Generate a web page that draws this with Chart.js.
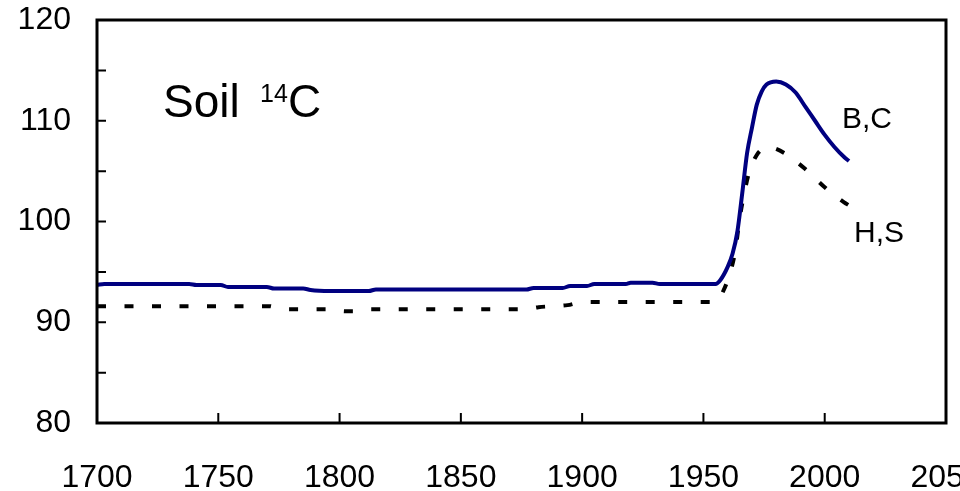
<!DOCTYPE html>
<html>
<head>
<meta charset="utf-8">
<script src="https://cdn.jsdelivr.net/npm/chart.js@4/dist/chart.umd.min.js"></script>
<style>
  html, body { margin: 0; padding: 0; background: #fff; overflow: hidden; }
  #wrap { width: 960px; height: 491px; }
</style>
</head>
<body>
<div id="wrap"><canvas id="soilChart" width="960" height="491"></canvas></div>
<script>
// values
var bcYears = [1700, 1703, 1738, 1741, 1751, 1754, 1770, 1773, 1785, 1788, 1796, 1812, 1815,
  1877, 1880, 1892, 1895, 1902, 1905, 1918, 1920, 1929, 1932, 1955, 1957, 1960, 1962, 1964,
  1966, 1968, 1970, 1972, 1974, 1976, 1980, 1984, 1988, 1992, 1996, 2000, 2004, 2008, 2010];
var bcValues = [93.7, 93.8, 93.8, 93.7, 93.7, 93.5, 93.5, 93.35, 93.35, 93.2, 93.1, 93.1, 93.25,
  93.25, 93.4, 93.4, 93.6, 93.6, 93.8, 93.8, 93.93, 93.93, 93.8, 93.8, 94.2, 95.5, 96.8, 99.0,
  102.8, 106.8, 109.3, 111.6, 112.9, 113.6, 113.9, 113.6, 112.8, 111.4, 110.0, 108.6, 107.4, 106.4, 106.0];

var hsYears = [1700, 1771, 1776, 1798, 1802, 1806, 1812, 1876, 1882, 1894, 1900, 1954, 1956,
  1958, 1960, 1963, 1965, 1967, 1969, 1972, 1975, 1977, 1980, 1984, 1988, 1992, 1996, 2000,
  2004, 2008, 2010];
var hsValues = [91.6, 91.6, 91.3, 91.3, 91.1, 91.1, 91.3, 91.3, 91.5, 91.7, 92.0, 92.0, 92.1,
  93.0, 94.2, 96.9, 100.4, 103.0, 105.0, 106.6, 107.3, 107.4, 107.2, 106.7, 106.0, 105.2, 104.3, 103.4,
  102.6, 101.9, 101.6];

var xTicks = [1700, 1750, 1800, 1850, 1900, 1950, 2000, 2050];
var yTicks = [80, 90, 100, 110, 120];
var yMinorTicks = [85, 95, 105, 115];

var FONT = '"Liberation Sans", Arial, sans-serif';

function toPoints(xs, ys) {
  return xs.map(function (x, i) { return { x: x, y: ys[i] }; });
}

var framePlugin = {
  id: 'frame',
  afterDatasetsDraw: function (chart) {
    var ctx = chart.ctx;
    var a = chart.chartArea;
    var xs = chart.scales.x;
    var ys = chart.scales.y;
    ctx.save();
    ctx.strokeStyle = '#000';
    ctx.lineWidth = 3;
    ctx.lineCap = 'butt';
    ctx.strokeRect(a.left, a.top, a.right - a.left, a.bottom - a.top);
    ctx.lineWidth = 2;
    ctx.beginPath();
    xTicks.forEach(function (v) {
      var px = xs.getPixelForValue(v);
      if (px <= a.left + 2 || px >= a.right - 2) return;
      ctx.moveTo(px, a.bottom);
      ctx.lineTo(px, a.bottom - 10);
    });
    yTicks.concat(yMinorTicks).forEach(function (v) {
      var py = ys.getPixelForValue(v);
      if (py <= a.top + 2 || py >= a.bottom - 2) return;
      ctx.moveTo(a.left, py);
      ctx.lineTo(a.left + 9, py);
    });
    ctx.stroke();

    // annotations
    ctx.fillStyle = '#000';
    ctx.textBaseline = 'alphabetic';
    ctx.textAlign = 'left';
    ctx.font = '46px ' + FONT;
    ctx.fillText('Soil', 163, 117);
    ctx.font = '25px ' + FONT;
    ctx.fillText('14', 260, 102);
    ctx.font = '46px ' + FONT;
    ctx.fillText('C', 288, 117);
    ctx.font = '30px ' + FONT;
    ctx.fillText('B,C', 842, 128);
    ctx.fillText('H,S', 854, 242);
    ctx.restore();
  }
};

new Chart(document.getElementById('soilChart'), {
  type: 'line',
  data: {
    datasets: [{
      label: 'B,C',
      data: toPoints(bcYears, bcValues),
      borderColor: '#000080',
      borderWidth: 4,
      pointRadius: 0,
      cubicInterpolationMode: 'monotone',
      fill: false
    }, {
      label: 'H,S',
      data: toPoints(hsYears, hsValues),
      borderColor: '#000',
      borderWidth: 4,
      borderDash: [9, 18.5],
      borderCapStyle: 'butt',
      pointRadius: 0,
      cubicInterpolationMode: 'monotone',
      fill: false
    }]
  },
  options: {
    responsive: false,
    animation: false,
    devicePixelRatio: 1,
    layout: { padding: { left: 0, top: 20, right: 14, bottom: 0 } },
    plugins: {
      legend: { display: false },
      tooltip: { enabled: false }
    },
    scales: {
      x: {
        type: 'linear',
        min: 1700,
        max: 2050,
        grid: { display: false, drawTicks: false },
        border: { display: false },
        ticks: {
          stepSize: 50,
          autoSkip: false,
          maxRotation: 0,
          padding: 36,
          color: '#000',
          font: { family: FONT, size: 32 },
          callback: function (v) { return String(v); }
        },
        afterFit: function (scale) {
          scale.height = 68;
          scale.paddingLeft = 0;
          scale.paddingRight = 0;
        }
      },
      y: {
        min: 80,
        max: 120,
        grid: { display: false, drawTicks: false },
        border: { display: false },
        ticks: {
          stepSize: 5,
          padding: 26,
          color: '#000',
          font: { family: FONT, size: 32 },
          callback: function (v) { return v % 10 === 0 ? String(v) : ''; }
        },
        afterFit: function (scale) {
          scale.width = 97;
          scale.paddingTop = 0;
          scale.paddingBottom = 0;
        }
      }
    }
  },
  plugins: [framePlugin]
});
</script>
</body>
</html>
